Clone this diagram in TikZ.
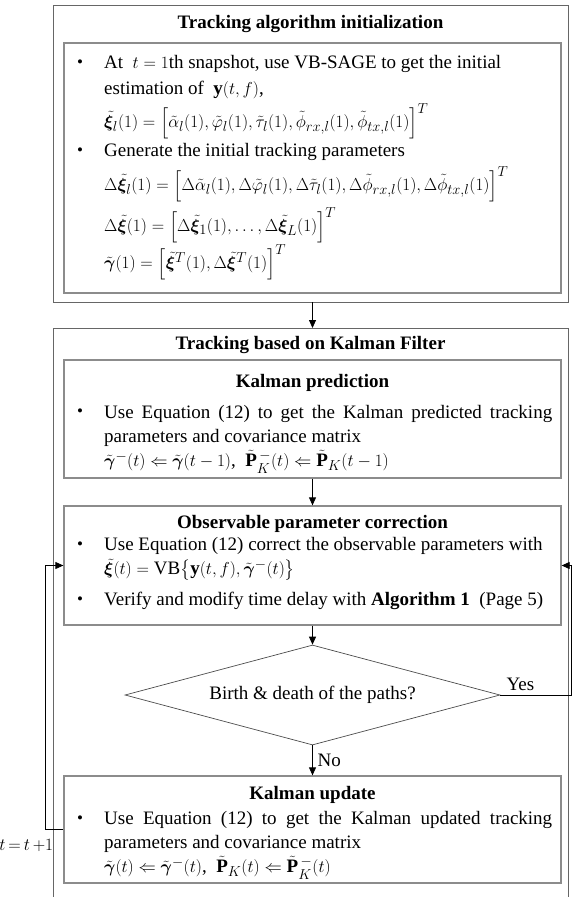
\documentclass[tikz,border=0pt]{standalone}
\usepackage{amsmath}
\usepackage{bm}
\usepackage{fontspec}
\setmainfont{Liberation Serif}
\usetikzlibrary{arrows.meta,calc,shapes.geometric,positioning}

\tikzset{
  outerbox/.style={draw=black!60, line width=0.8pt, inner sep=0pt},
  innerbox/.style={draw=black!45, line width=1.3pt, inner sep=0pt},
  ttl/.style={font=\fontsize{19}{22}\selectfont\bfseries, inner sep=0pt},
  txt/.style={font=\fontsize{19}{24}\selectfont, inner sep=0pt, anchor=west},
  para/.style={txt, anchor=north west, text width=448pt, align=justify},
  bul/.style={font=\fontsize{17}{20}\selectfont, inner sep=0pt},
  flow/.style={draw=black, line width=0.8pt, -{Triangle[length=8pt,width=7pt]}},
}

\begin{document}
\begin{tikzpicture}[x=1pt, y=-1pt]
  \useasboundingbox (0,0) rectangle (572,897);

  % initialization block
  \node[outerbox, minimum width=515pt, minimum height=297pt] (init) at (310.5,153.5) {};
  \node[innerbox, minimum width=497pt, minimum height=250pt] (initIn) at (312.5,168) {};
  \node[ttl] (initT) at (310.5,24) {Tracking algorithm initialization};
  \node[bul] (ib1) at (80,64) {\textbullet};
  \node[txt] (i1) at (104,64) {At \ $t=1$th snapshot, use VB-SAGE to get the initial};
  \node[txt] (i2) at (104,90) {estimation of \ $\mathbf{y}(t,f)$,};
  \node[txt] (i3) at (104,121) {$\tilde{\bm\xi}_l(1)=\Bigl[\tilde\alpha_l(1),\tilde\varphi_l(1),\tilde\tau_l(1),\tilde\phi_{rx,l}(1),\tilde\phi_{tx,l}(1)\Bigr]^T$};
  \node[bul] (ib2) at (80,152) {\textbullet};
  \node[txt] (i4) at (104,152) {Generate the initial tracking parameters};
  \node[txt] (i5) at (104,184) {$\Delta\tilde{\bm\xi}_l(1)=\Bigl[\Delta\tilde\alpha_l(1),\Delta\tilde\varphi_l(1),\Delta\tilde\tau_l(1),\Delta\tilde\phi_{rx,l}(1),\Delta\tilde\phi_{tx,l}(1)\Bigr]^T$};
  \node[txt] (i6) at (104,225) {$\Delta\tilde{\bm\xi}(1)=\Bigl[\Delta\tilde{\bm\xi}_1(1),\ldots,\Delta\tilde{\bm\xi}_L(1)\Bigr]^T$};
  \node[txt] (i7) at (104,262) {$\tilde{\bm\gamma}(1)=\Bigl[\tilde{\bm\xi}^T(1),\Delta\tilde{\bm\xi}^T(1)\Bigr]^T$};

  % Kalman filter block (open at the bottom)
  \coordinate (kfTop) at (312.5,328);
  \draw[outerbox] (53,900) -- (53,328) -- (568,328) -- (568,900);
  \node[ttl] (kfT) at (310.5,345) {Tracking based on Kalman Filter};

  \node[innerbox, minimum width=497pt, minimum height=118pt] (pred) at (312.5,419) {};
  \node[ttl] (predT) at (312.5,383) {Kalman prediction};
  \node[bul] (pb) at (80,413) {\textbullet};
  \node[para] (p1) at (104,405) {Use Equation (12) to get the Kalman predicted tracking\linebreak parameters and covariance matrix\\
    $\tilde{\bm\gamma}^-(t)\Leftarrow\tilde{\bm\gamma}(t-1)$, \ $\tilde{\mathbf P}_K^{\,-}(t)\Leftarrow\tilde{\mathbf P}_K(t-1)$};

  \node[innerbox, minimum width=497pt, minimum height=119pt] (obs) at (312.5,565.5) {};
  \node[ttl] (obsT) at (312.5,524) {Observable parameter correction};
  \node[bul] (ob1) at (80,546) {\textbullet};
  \node[txt] (o1) at (104,546) {Use Equation (12) correct the observable parameters with};
  \node[txt] (o2) at (104,570) {$\tilde{\bm\xi}(t)=\mathrm{VB}\bigl\{\mathbf y(t,f),\tilde{\bm\gamma}^-(t)\bigr\}$};
  \node[bul] (ob2) at (80,601) {\textbullet};
  \node[txt] (o3) at (104,601) {Verify and modify time delay with \textbf{Algorithm 1} \ (Page 5)};

  \node[draw=black!70, line width=0.7pt, diamond, aspect=3.75, minimum width=375pt,
        minimum height=100pt, inner sep=0pt, font=\fontsize{19}{22}\selectfont] (dec) at (312.5,695) {Birth \& death of the paths?};

  \node[innerbox, minimum width=497pt, minimum height=107pt] (upd) at (312.5,829.5) {};
  \node[ttl] (updT) at (312.5,795) {Kalman update};
  \node[bul] (ub) at (80,820) {\textbullet};
  \node[para] (u1) at (104,811) {Use Equation (12) to get the Kalman updated tracking\linebreak parameters and covariance matrix\\
    $\tilde{\bm\gamma}(t)\Leftarrow\tilde{\bm\gamma}^-(t)$, \ $\tilde{\mathbf P}_K(t)\Leftarrow\tilde{\mathbf P}_K^{\,-}(t)$};

  % connectors
  \draw[flow] (initIn.south |- init.south) -- (kfTop);
  \draw[flow] (pred) -- (obs);
  \draw[flow] (obs) -- (dec);
  \draw[flow] (dec) -- (upd);
  \coordinate (rLoop) at (571,695);
  \draw[flow] (dec.east) -- (rLoop) |- (obs.east);
  \draw[flow] (upd.west) -- ++(-18,0) |- (obs.west);

  \node[txt] (yes) at ($(dec.east)+(6,-11)$) {Yes};
  \node[txt] (no) at ($(dec.south)!0.5!(upd.north)+(5,0)$) {No};
  \node[txt, font=\fontsize{18}{20}\selectfont, anchor=east] (inc) at ($(upd.west)+(-10,16)$) {$t\,{=}\,t\,{+}1$};
\end{tikzpicture}
\end{document}
